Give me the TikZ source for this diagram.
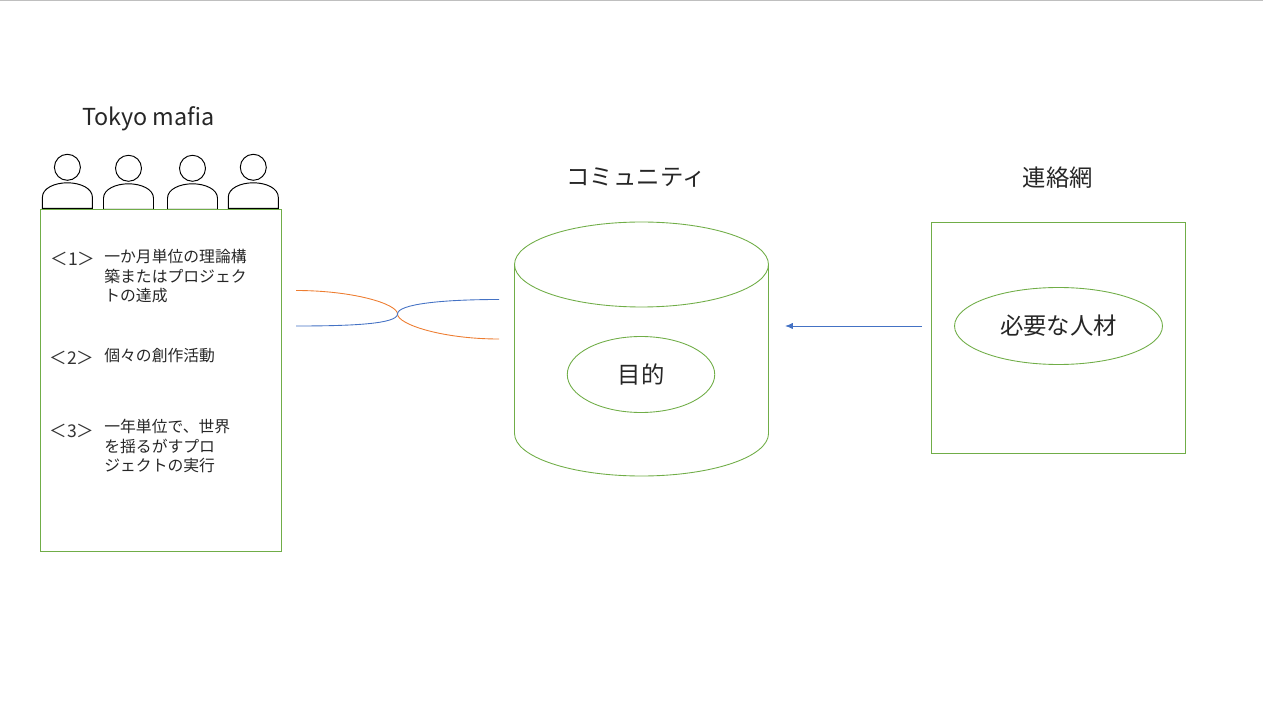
\documentclass[tikz,border=0pt]{standalone}
\usepackage{fontspec}
\setmainfont{Noto Sans CJK JP}
\usetikzlibrary{shapes.geometric,arrows.meta}
\definecolor{boxgreen}{HTML}{70AD47}
\definecolor{lineblue}{HTML}{4472C4}
\definecolor{lineorange}{HTML}{ED7D31}
\tikzset{
	greenline/.style={draw=boxgreen,line width=0.5pt,outer sep=0pt},
	greenellipse/.style={greenline,ellipse,inner sep=0pt},
	person/.style={draw=black,line width=0.55pt,fill=white},
	bigtext/.style={font=\fontsize{13.3}{16}\selectfont,text=black!85,inner sep=0pt},
	itemnum/.style={font=\fontsize{10}{12}\selectfont,text=black!80,inner sep=0pt},
	itemtext/.style={font=\fontsize{9}{11.1}\selectfont,text=black!85,align=left,anchor=north west,inner sep=0pt},
}

\begin{document}
\begin{tikzpicture}[x=0.02cm,y=-0.02cm]
	\useasboundingbox (0,0) rectangle (1263,712);
	\draw[draw=black!25,line width=0.6pt] (0,0.5)--(1263,0.5);

	%titles
	\node[bigtext] (mafiatitle) at (148.5,119) {Tokyo mafia};
	\node[bigtext] (communitytitle) at (636,178) {コミュニティ};
	\node[bigtext] (contacttitle) at (1058,178) {連絡網};

	%people
	\foreach \px/\py in {67.4/167.3, 128.5/168.3, 192.5/168.3, 253.3/167.3}{
		\draw[person] (\px,\py) circle [radius=13];
		\draw[person] (\px-25,\py+41) -- (\px-25,\py+30)
			.. controls (\px-25,\py+21) and (\px-13,\py+15.5) .. (\px,\py+15.5)
			.. controls (\px+13,\py+15.5) and (\px+25,\py+21) .. (\px+25,\py+30)
			-- (\px+25,\py+41) -- cycle;
	}

	%left box
	\node[greenline,minimum width=4.82cm,minimum height=6.84cm,inner sep=0pt,anchor=north west] (mafiabox) at (40.5,209.5) {};
	\node[itemnum] (numone) at (73,259) {＜1＞};
	\node[itemnum] (numtwo) at (72,358) {＜2＞};
	\node[itemnum] (numthree) at (72,431) {＜3＞};
	\node[itemtext] (itemone) at (104,249) {一か月単位の理論構\\築またはプロジェク\\トの達成};
	\node[itemtext] (itemtwo) at (104,348) {個々の創作活動};
	\node[itemtext] (itemthree) at (104,419) {一年単位で、世界\\を揺るがすプロ\\ジェクトの実行};

	%cylinder
	\node[greenellipse,minimum width=5.08cm,minimum height=1.70cm] (cyltop) at (641.5,264.5) {};
	\draw[greenline] (cyltop.west) -- ++(0,169)
		arc [start angle=180,end angle=0,x radius=127,y radius=42.5]
		-- (cyltop.east);
	\node[greenellipse,minimum width=2.95cm,minimum height=1.52cm,font=\fontsize{13.3}{16}\selectfont,text=black!85] (purpose) at (641,374.5) {目的};

	%right box
	\node[greenline,minimum width=5.08cm,minimum height=4.62cm,inner sep=0pt,anchor=north west] (contactbox) at (931.5,222.5) {};
	\node[greenellipse,minimum width=4.16cm,minimum height=1.54cm,font=\fontsize{13.3}{16}\selectfont,text=black!85] (talent) at (1058.5,326) {\raisebox{0.5pt}{必要な人材}};

	%crossing lines
	\coordinate (orangeleft) at (296,290.5);
	\coordinate (orangeright) at (499,339);
	\coordinate (blueleft) at (296,326);
	\coordinate (blueright) at (499,299.5);
	\coordinate (crossing) at (397.5,314);
	\draw[lineorange,line width=0.5pt] (orangeleft) to[out=0,in=90,out looseness=1.4,in looseness=0.25] (crossing) to[out=-90,in=180,out looseness=0.25,in looseness=1.4] (orangeright);
	\draw[lineblue,line width=0.5pt] (blueleft) to[out=0,in=-90,out looseness=1.4,in looseness=0.25] (crossing) to[out=90,in=180,out looseness=0.25,in looseness=1.4] (blueright);

	%arrow
	\coordinate (arrowstart) at (922,326);
	\coordinate (arrowend) at (785,326);
	\draw[lineblue,line width=0.5pt,-{Latex[length=4.5pt,width=3.6pt]}] (arrowstart) -- (arrowend);
\end{tikzpicture}
\end{document}
